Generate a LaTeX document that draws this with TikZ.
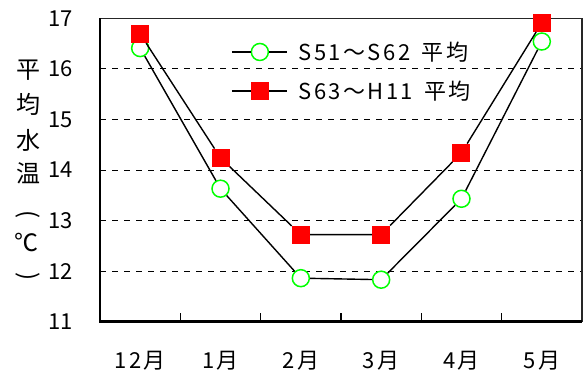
\documentclass[tikz,border=0pt]{standalone}
\usepackage{fontspec}
\setmainfont{Noto Sans CJK JP}
\usetikzlibrary{positioning}

\begin{document}
\begin{tikzpicture}
		[
		x=80.33pt, y=50.57pt,
		font=\fontsize{22}{22}\selectfont
		]
		
		% Styles for the frame, the grid and the two series
		\tikzstyle{axis line}=[line width=2.4pt];
		\tikzstyle{frame line}=[line width=1.3pt, black!85];
		\tikzstyle{grid line}=[line width=0.8pt, dash pattern=on 6pt off 6pt];
		\tikzstyle{data line}=[line width=1.4pt];
		\tikzstyle{old mark}=[circle,draw=green,line width=1.5pt,fill=white,minimum size=17pt,inner sep=0];
		\tikzstyle{new mark}=[rectangle,fill=red,minimum size=18pt,inner sep=0];
		\tikzstyle{spaced}=[font=\fontsize{22}{22}\selectfont\addfontfeature{LetterSpace=11}];
		\tikzstyle{title char}=[font=\fontsize{24}{24}\selectfont];
		
		\useasboundingbox (-1.245,9.966) rectangle (6.0375,17.361);
		
		% Grid
		\foreach \v in {12,...,16} \draw[grid line](0,\v)--(6,\v);
		
		% Frame and ticks
		\coordinate (c00) at (0,11);
		\coordinate (c01) at (0,17);
		\coordinate (c10) at (6,11);
		\coordinate (c11) at (6,17);
		\draw[frame line](c01)--(c11)--(c10);
		\draw[axis line](c01)--(c00)--(c10);
		\foreach \i in {1,...,5} \draw[line width=1.2pt](\i,11)--++(0,0.18);
		
		% Tick labels
		\foreach \v in {11,...,17} \node[anchor=east](y\v)at(-0.29,\v){\v};
		\foreach \m [count=\i] in {12,1,2,3,4,5} \node[spaced](m\i)at(\i-0.5,10.22){\m 月};
		
		% Axis title
		\node[title char](t1)at(-0.896,15.98){平};
		\node[title char](t2)at(-0.896,15.29){均};
		\node[title char](t3)at(-0.896,14.58){水};
		\node[title char](t4)at(-0.896,13.93){温};
		\node[title char,rotate=-90](t5)at(-0.896,13.12){(};
		\node[title char](t6)at(-0.91,12.56){℃};
		\node[title char,rotate=-90](t7)at(-0.896,11.9){)};
		
		% S51~S62
		\foreach \v [count=\i] in {16.41,13.63,11.86,11.83,13.43,16.54}
			\node[old mark](o\i)at(\i-0.5,\v){};
		\draw[data line](o1)--(o2)--(o3)--(o4)--(o5)--(o6);
		
		% S63~H11
		\foreach \v [count=\i] in {16.69,14.24,12.72,12.72,14.34,16.91}
			\node[new mark](n\i)at(\i-0.5,\v){};
		\draw[data line](n1)--(n2)--(n3)--(n4)--(n5)--(n6);
		
		% Legend
		\node[old mark](lo)at(1.99,16.333){};
		\coordinate(lo-a)at(1.64,16.333);
		\coordinate(lo-b)at(2.328,16.333);
		\draw[data line](lo-a)--(lo) (lo)--(lo-b);
		\node[spaced,anchor=west](lo-t)at(2.43,16.333){S51～S62\hspace{4pt} 平均};
		
		\node[new mark](ln)at(1.99,15.563){};
		\coordinate(ln-a)at(1.64,15.563);
		\coordinate(ln-b)at(2.328,15.563);
		\draw[data line](ln-a)--(ln) (ln)--(ln-b);
		\node[spaced,anchor=west](ln-t)at(2.43,15.563){S63～H11\hspace{4pt} 平均};
		
		\end{tikzpicture}
\end{document}
